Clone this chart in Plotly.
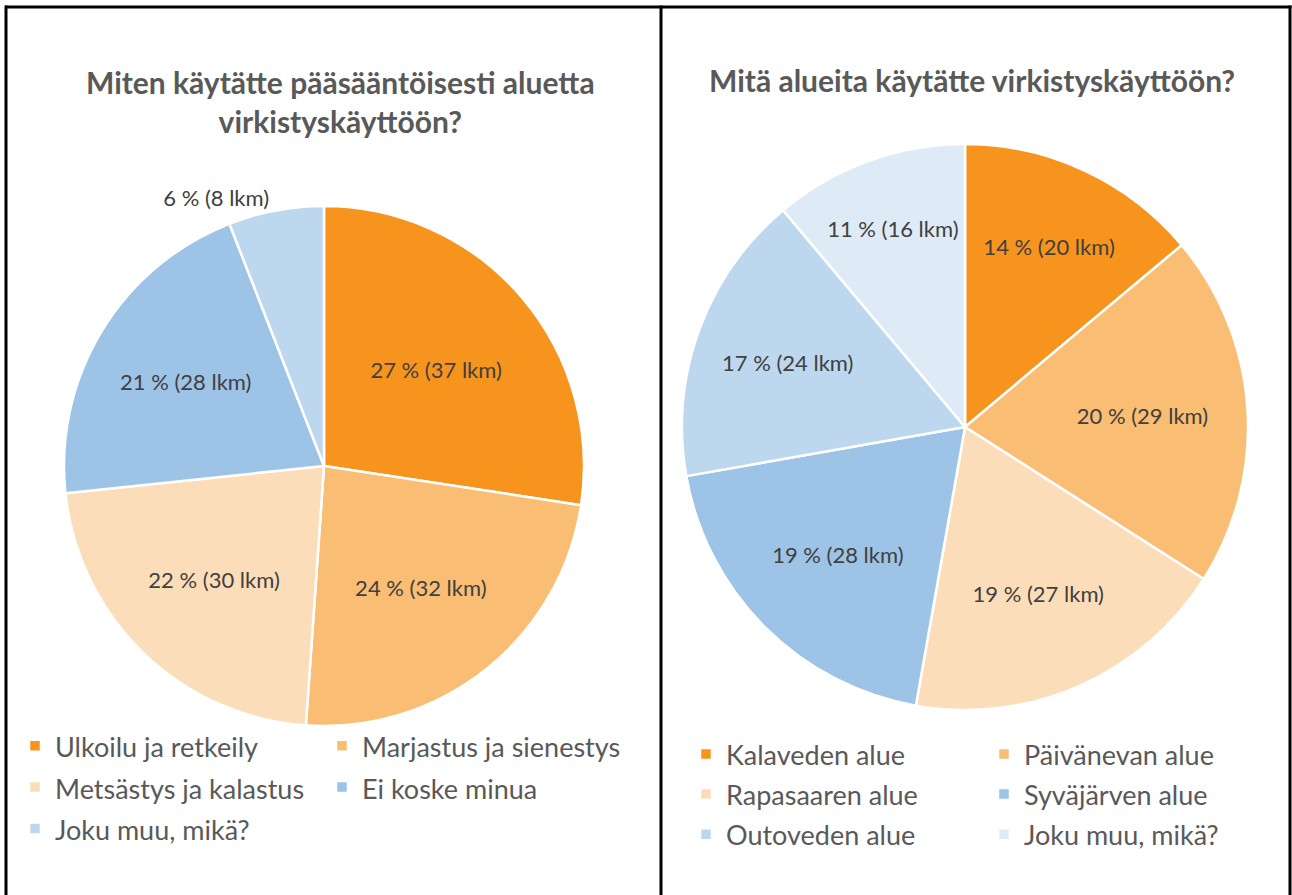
import plotly.graph_objects as go

# ---------------- data ----------------
left_title = "Miten käytätte pääsääntöisesti aluetta<br>virkistyskäyttöön?"
left_labels = ["Ulkoilu ja retkeily", "Marjastus ja sienestys", "Metsästys ja kalastus",
               "Ei koske minua", "Joku muu, mikä?"]
left_values = [37, 32, 30, 28, 8]

right_title = "Mitä alueita käytätte virkistyskäyttöön?"
right_labels = ["Kalaveden alue", "Päivänevan alue", "Rapasaaren alue",
                "Syväjärven alue", "Outoveden alue", "Joku muu, mikä?"]
right_values = [20, 29, 27, 28, 24, 16]

left_colors = ["#F7941D", "#F9BD73", "#FCDDB9", "#9DC3E6", "#BDD7EE"]
right_colors = ["#F7941D", "#F9BD73", "#FCDDB9", "#9DC3E6", "#BDD7EE", "#DEEBF7"]

# ---------------- layout helpers ----------------
OFF = 0                      # page body margin removed via post_script
W, H = 1292, 895
ML, MR = 20, 20
GW = W - ML - MR
FONT = "Lato"


def px_x(x):
    """page x pixel -> paper coordinate"""
    return (x - OFF - ML) / GW


def px_y(y):
    """page y pixel -> paper coordinate"""
    return 1 - (y - OFF) / H


def pct(vals):
    s = sum(vals)
    return [round(v / s * 100) for v in vals]


def legend_label(t, size):
    return f'<span style="font-size:{size}px">{t}</span>'


fig = go.Figure()

fig.add_trace(go.Pie(
    labels=[legend_label(t, 27) for t in left_labels],
    values=left_values,
    customdata=pct(left_values),
    texttemplate="%{customdata} % (%{value} lkm)",
    textposition=["inside", "inside", "inside", "inside", "outside"],
    insidetextorientation="horizontal",
    textfont=dict(family=FONT, size=22, color="#404040"),
    outsidetextfont=dict(family=FONT, size=22, color="#404040"),
    marker=dict(colors=left_colors, line=dict(color="white", width=2.5)),
    sort=False, direction="clockwise", rotation=0,
    domain=dict(x=[px_x(64), px_x(584)], y=[px_y(726), px_y(206)]),
    legend="legend", legendgroup="left",
    hoverinfo="label+value+percent",
))

fig.add_trace(go.Pie(
    labels=[legend_label(t, 27) for t in right_labels],
    values=right_values,
    customdata=pct(right_values),
    texttemplate="%{customdata} % (%{value} lkm)",
    textposition="inside",
    insidetextorientation="horizontal",
    textfont=dict(family=FONT, size=22, color="#404040"),
    marker=dict(colors=right_colors, line=dict(color="white", width=2.5)),
    sort=False, direction="clockwise", rotation=0,
    domain=dict(x=[px_x(682), px_x(1248)], y=[px_y(710), px_y(144)]),
    legend="legend2", legendgroup="right",
    hoverinfo="label+value+percent",
))

common_legend = dict(orientation="h", entrywidthmode="pixels", bgcolor="rgba(0,0,0,0)",
                     traceorder="normal", itemclick=False, itemdoubleclick=False)

fig.update_layout(
    width=W, height=H,
    margin=dict(l=ML, r=MR, t=0, b=0, autoexpand=False),
    paper_bgcolor="white", plot_bgcolor="white",
    font=dict(family=FONT, color="#595959"),
    legend=dict(**common_legend, x=px_x(15), xanchor="left", y=px_y(720), yanchor="top",
                entrywidth=262, font=dict(family=FONT, size=29.5, color="#595959")),
    legend2=dict(**common_legend, x=px_x(1282), xanchor="right", y=px_y(729), yanchor="top",
                 entrywidth=253, font=dict(family=FONT, size=28.5, color="#595959")),
    annotations=[
        dict(text=f"<b>{left_title}</b>", x=px_x(340), y=px_y(101), xref="paper", yref="paper",
             xanchor="center", yanchor="middle", showarrow=False, align="center",
             font=dict(family=FONT, size=30, color="#595959")),
        dict(text=f"<b>{right_title}</b>", x=px_x(972), y=px_y(80), xref="paper", yref="paper",
             xanchor="center", yanchor="middle", showarrow=False, align="center",
             font=dict(family=FONT, size=30, color="#595959")),
    ],
    shapes=[
        dict(type="line", xref="paper", yref="paper", x0=px_x(5), x1=px_x(1291.5), y0=px_y(7), y1=px_y(7),
             line=dict(color="black", width=3)),
        dict(type="line", xref="paper", yref="paper", x0=px_x(6), x1=px_x(6), y0=px_y(5.5), y1=px_y(900),
             line=dict(color="black", width=3)),
        dict(type="line", xref="paper", yref="paper", x0=px_x(661), x1=px_x(661), y0=px_y(5.5), y1=px_y(900),
             line=dict(color="black", width=3)),
        dict(type="line", xref="paper", yref="paper", x0=px_x(1290), x1=px_x(1290), y0=px_y(5.5), y1=px_y(900),
             line=dict(color="black", width=3)),
    ],
)

fig.write_html("out.html",
               config={"displayModeBar": False},
               post_script="document.body.style.margin='0';document.body.style.overflow='hidden';")
